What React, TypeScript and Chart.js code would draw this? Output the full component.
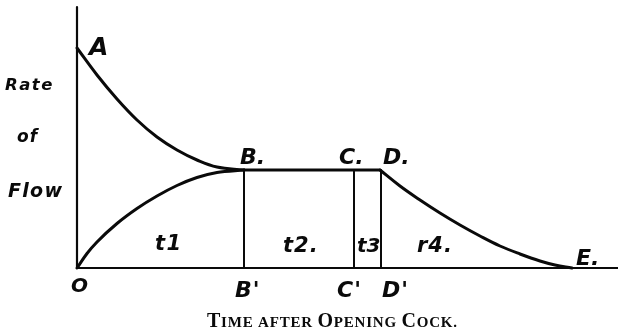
import React, { useEffect, useRef } from "react";
import { Chart, registerables } from "chart.js";

Chart.register(...registerables);

// Time (arbitrary units) and rate of flow (arbitrary units)
const timeAB = [0, 2, 4, 6, 8, 10, 12, 14, 16.7];
const rateAB = [22.0, 19.3, 16.9, 14.8, 13.1, 11.8, 10.8, 10.1, 9.8];

const timeOB = [0, 1, 2, 4, 6, 8, 10, 12, 14, 16.7];
const rateOB = [0, 1.45, 2.6, 4.45, 5.95, 7.2, 8.25, 9.05, 9.55, 9.8];

const timeBD = [16.7, 30.3];
const rateBD = [9.8, 9.8];

const timeDE = [30.3, 32.3, 34.3, 36.3, 38.3, 40.3, 42.3, 44.3, 46.3, 47.8, 49.5];
const rateDE = [9.8, 8.2, 6.8, 5.5, 4.3, 3.2, 2.2, 1.4, 0.7, 0.3, 0];

// Vertical ordinates B-B', C-C', D-D'
const ordinateTimes = [16.7, 27.7, 30.4];
const ordinateRate = 9.8;

const xMax = 54.1;
const yMax = 26.1;

const INK = "#0a0a0a";

function pts(xs: number[], ys: number[]) {
  return xs.map((x, i) => ({ x, y: ys[i] }));
}

const labelsPlugin = {
  id: "diagramLabels",
  afterDatasetsDraw(chart: any) {
    const { ctx, scales } = chart;
    const xs = scales.x;
    const ys = scales.y;
    const px = (v: number) => xs.getPixelForValue(v);
    const py = (v: number) => ys.getPixelForValue(v);
    ctx.save();
    ctx.fillStyle = INK;
    ctx.textBaseline = "alphabetic";
    ctx.textAlign = "left";
    const put = (t: string, x: number, y: number, size: number, spacing = 0) => {
      ctx.font = `italic bold ${size}px "DejaVu Sans", sans-serif`;
      (ctx as any).letterSpacing = `${spacing}px`;
      ctx.fillText(t, x, y);
    };
    const left = chart.chartArea.left;
    // y-axis caption
    put("Rate", left - 72, 90, 16.5, 1.5);
    put("of", left - 60, 142, 17, 1);
    put("Flow", left - 69, 197, 19, 1.3);
    // point letters
    put("A", px(timeAB[0]) + 12, py(rateAB[0]) + 7, 25);
    put("B.", px(ordinateTimes[0]) - 4, py(ordinateRate) - 6, 22);
    put("C.", px(ordinateTimes[1]) - 15, py(ordinateRate) - 6, 22);
    put("D.", px(ordinateTimes[2]) + 2, py(ordinateRate) - 6, 22);
    put("E.", px(timeDE[timeDE.length - 1]) + 4, py(0) - 3, 22);
    // base letters
    put("O", px(0) - 6, py(0) + 24, 20);
    put("B'", px(ordinateTimes[0]) - 9, py(0) + 29, 22, 1);
    put("C'", px(ordinateTimes[1]) - 17, py(0) + 29, 22, 1);
    put("D'", px(ordinateTimes[2]) + 1, py(0) + 29, 22, 1);
    // interval labels
    put("t1", px(7.8), py(1.8), 21, 1.5);
    put("t2.", px(20.6), py(1.6), 21, 1);
    put("t3", px(28.0), py(1.6), 20, 0);
    put("r4.", px(34.0), py(1.6), 21, 1);
    (ctx as any).letterSpacing = "0px";

    // small caps title
    const big = 20;
    const small = 15;
    const parts: [string, number][] = [
      ["T", big], ["IME ", small], ["AFTER ", small],
      ["O", big], ["PENING ", small], ["C", big], ["OCK.", small],
    ];
    const fontFor = (s: number) => `bold ${s}px "Liberation Serif", "Times New Roman", serif`;
    const gap = 0.8;
    let total = 0;
    for (const [t, s] of parts) {
      ctx.font = fontFor(s);
      for (const ch of t) total += ctx.measureText(ch).width + gap;
    }
    total -= gap;
    let x = 332 - total / 2;
    const base = 327;
    for (const [t, s] of parts) {
      ctx.font = fontFor(s);
      for (const ch of t) {
        ctx.fillText(ch, x, base);
        x += ctx.measureText(ch).width + gap;
      }
    }
    ctx.restore();
  },
};

export default function App() {
  const ref = useRef<HTMLCanvasElement | null>(null);
  useEffect(() => {
    if (!ref.current) return;
    const line = (data: any[], width: number, curve: "none" | "bezier" | "monotone") => ({
      data,
      showLine: true,
      borderColor: INK,
      backgroundColor: INK,
      borderWidth: width,
      borderCapStyle: "round",
      borderJoinStyle: "round",
      pointRadius: 0,
      pointHoverRadius: 0,
      fill: false,
      clip: false as any,
      tension: curve === "bezier" ? 0.4 : 0,
      cubicInterpolationMode: curve === "monotone" ? "monotone" : "default",
    });
    const datasets: any[] = [
      line([{ x: 0, y: 0 }, { x: 0, y: yMax }], 2.2, "none"),
      line([{ x: 0, y: 0 }, { x: xMax, y: 0 }], 2.2, "none"),
      line(pts(timeAB, rateAB), 3, "bezier"),
      line(pts(timeOB, rateOB), 3, "monotone"),
      line(pts(timeBD, rateBD), 3, "none"),
      line(pts(timeDE, rateDE), 3, "bezier"),
      ...ordinateTimes.map((t) =>
        line([{ x: t, y: 0 }, { x: t, y: ordinateRate }], 2, "none")
      ),
    ];
    const chart = new Chart(ref.current, {
      type: "scatter",
      data: { datasets },
      options: {
        responsive: false,
        animation: false,
        devicePixelRatio: 1,
        layout: { padding: { left: 77, right: 0, top: 7, bottom: 65 } },
        plugins: { legend: { display: false }, tooltip: { enabled: false } },
        events: [],
        scales: {
          x: { type: "linear", min: 0, max: xMax, display: false },
          y: { type: "linear", min: 0, max: yMax, display: false },
        },
      },
      plugins: [labelsPlugin],
    });
    return () => chart.destroy();
  }, []);
  return (
    <div style={{ position: "absolute", left: 0, top: 0, width: 618, height: 333, background: "#fff" }}>
      <canvas ref={ref} width={618} height={333} style={{ display: "block" }} />
    </div>
  );
}
